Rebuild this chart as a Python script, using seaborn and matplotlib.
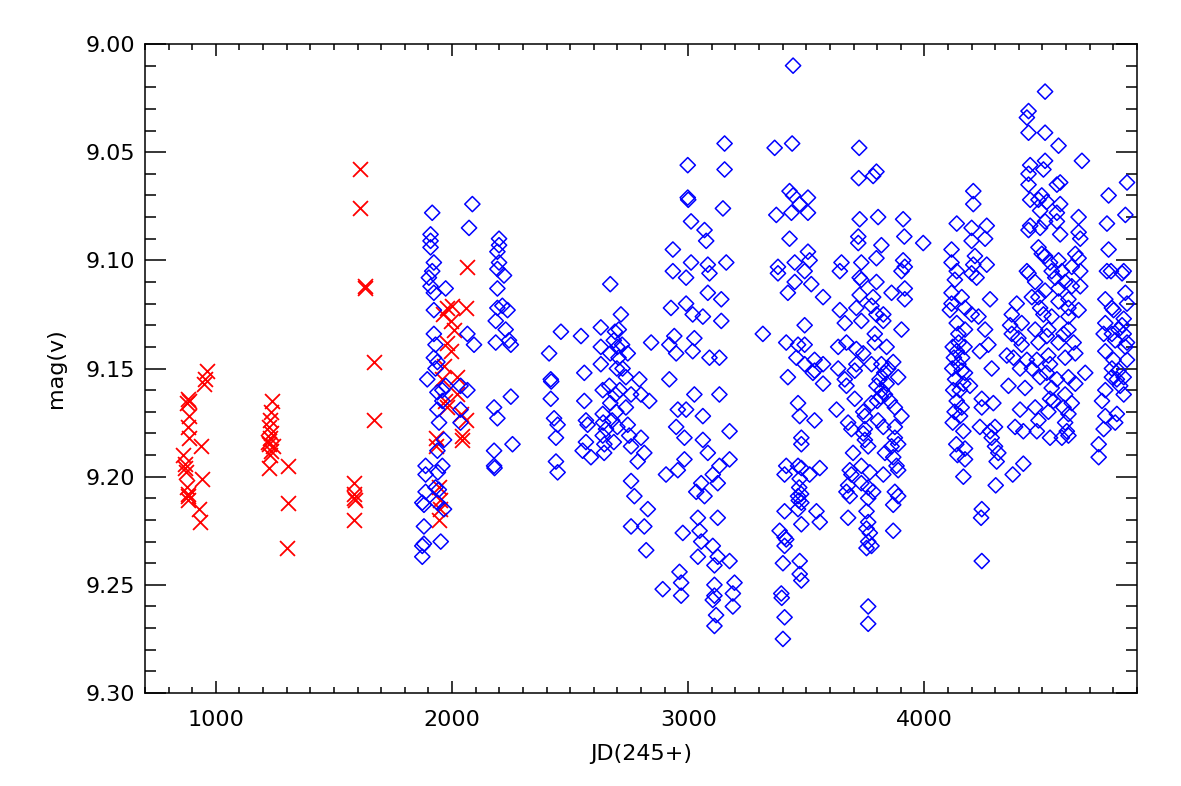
import numpy as np
import pandas as pd
import matplotlib
matplotlib.use("Agg")
import matplotlib.pyplot as plt
import seaborn as sns
from matplotlib.ticker import MultipleLocator, FormatStrFormatter

# ==========================================
# Data: (JD-2450000, V mag)
# ==========================================
# red crosses, one list per observing season
red_s1 = [(962, 9.151), (955, 9.155), (950, 9.157), (882, 9.164), (878, 9.166), (888, 9.165),
          (885, 9.172), (882, 9.177), (885, 9.182), (935, 9.186), (862, 9.190), (870, 9.194),
          (875, 9.198), (870, 9.196), (940, 9.201), (878, 9.205), (882, 9.208), (880, 9.209),
          (884, 9.211), (930, 9.215), (932, 9.221)]
red_s2 = [(1238, 9.165), (1232, 9.170), (1230, 9.174), (1226, 9.177), (1235, 9.180),
          (1228, 9.182), (1222, 9.184), (1226, 9.185), (1240, 9.186), (1232, 9.188),
          (1230, 9.190), (1226, 9.196), (1307, 9.195), (1307, 9.212), (1300, 9.233)]
red_s3 = [(1612, 9.058), (1612, 9.076), (1630, 9.113), (1632, 9.112), (1669, 9.147),
          (1669, 9.174), (1584, 9.203), (1586, 9.208), (1584, 9.210), (1588, 9.211), (1584, 9.220)]
red_s4 = [(2065, 9.103), (1980, 9.122), (2001, 9.121), (2058, 9.122), (1960, 9.125),
          (1994, 9.128), (2008, 9.132), (1980, 9.138), (1994, 9.142), (1966, 9.149),
          (2023, 9.154), (1959, 9.155), (2023, 9.162), (1970, 9.165), (1980, 9.168),
          (2036, 9.171), (2058, 9.174), (2044, 9.181), (2044, 9.183), (1930, 9.182),
          (1930, 9.186), (1944, 9.205), (1951, 9.211), (1951, 9.215), (1944, 9.220)]

# blue diamonds, one list per observing season
blue_s1 = [(1916, 9.078), (1909, 9.088), (1909, 9.091), (1909, 9.094), (1923, 9.101),
           (1916, 9.105), (1902, 9.108), (1909, 9.112), (1923, 9.115), (1973, 9.113),
           (1923, 9.123), (1923, 9.134), (1930, 9.139), (1923, 9.145), (1938, 9.147),
           (1930, 9.150), (1895, 9.155), (1973, 9.158), (1959, 9.160), (1938, 9.161),
           (1959, 9.165), (1938, 9.169), (1945, 9.175), (1966, 9.183), (1938, 9.188),
           (1888, 9.195), (1959, 9.195), (1940, 9.198), (1888, 9.199), (1930, 9.205),
           (1944, 9.206), (1888, 9.207), (1874, 9.212), (1938, 9.212), (1881, 9.213),
           (1966, 9.215), (1881, 9.223), (1952, 9.230), (1881, 9.231), (1874, 9.232),
           (1874, 9.237)]
blue_s2 = [(2086, 9.074), (2072, 9.085), (2065, 9.134), (2093, 9.139), (2036, 9.158),
           (2065, 9.160), (2036, 9.169), (2036, 9.175), (2199, 9.090), (2199, 9.093),
           (2192, 9.096), (2199, 9.101), (2192, 9.104), (2220, 9.107), (2192, 9.113),
           (2213, 9.121), (2192, 9.122), (2235, 9.123), (2185, 9.128), (2227, 9.132),
           (2241, 9.137), (2185, 9.138), (2249, 9.139), (2249, 9.163), (2178, 9.168),
           (2192, 9.173), (2256, 9.185), (2178, 9.188), (2178, 9.195), (2180, 9.196)]
blue_s3 = [(2670, 9.111), (2461, 9.133), (2546, 9.135), (2411, 9.143), (2418, 9.155),
           (2420, 9.156), (2418, 9.164), (2432, 9.173), (2447, 9.176), (2440, 9.182),
           (2440, 9.193), (2447, 9.198), (2560, 9.152), (2560, 9.165), (2567, 9.174),
           (2574, 9.176), (2567, 9.184), (2553, 9.188), (2588, 9.191), (2630, 9.131),
           (2715, 9.125), (2706, 9.132), (2685, 9.137), (2630, 9.140), (2670, 9.143),
           (2744, 9.143), (2630, 9.148), (2722, 9.150), (2736, 9.154), (2666, 9.158),
           (2793, 9.155), (2638, 9.160), (2692, 9.162), (2758, 9.162), (2800, 9.162),
           (2835, 9.165), (2670, 9.166), (2736, 9.168), (2638, 9.171), (2678, 9.174),
           (2652, 9.178), (2700, 9.177), (2744, 9.176), (2638, 9.181), (2685, 9.184),
           (2750, 9.181), (2800, 9.182), (2644, 9.189), (2758, 9.186), (2814, 9.189),
           (2786, 9.193), (2758, 9.202), (2772, 9.209), (2829, 9.215), (2758, 9.223),
           (2814, 9.223), (2822, 9.234), (2843, 9.138), (2700, 9.140), (2705, 9.145),
           (2698, 9.150), (2710, 9.160), (2695, 9.170), (2640, 9.175), (2645, 9.185),
           (2690, 9.133), (2720, 9.139)]
blue_s4 = [(3154, 9.046), (2998, 9.056), (3154, 9.058), (2998, 9.071), (3000, 9.072),
           (3147, 9.076), (3012, 9.082), (3069, 9.086), (3076, 9.091), (2935, 9.095),
           (3012, 9.101), (3161, 9.101), (3083, 9.102), (2935, 9.105), (3090, 9.106),
           (2991, 9.108), (3083, 9.115), (3140, 9.118), (2991, 9.120), (2927, 9.122),
           (3019, 9.125), (3062, 9.126), (3140, 9.128), (2941, 9.135), (3026, 9.136),
           (2920, 9.139), (3019, 9.142), (2949, 9.143), (3090, 9.145), (3132, 9.145),
           (2920, 9.155), (3026, 9.162), (3132, 9.162), (2956, 9.169), (2991, 9.169),
           (3062, 9.172), (2949, 9.177), (3175, 9.179), (2984, 9.182), (3062, 9.183),
           (3083, 9.189), (2984, 9.192), (3175, 9.192), (3132, 9.195), (2956, 9.197),
           (2906, 9.199), (3104, 9.199), (3055, 9.203), (3125, 9.203), (3034, 9.207),
           (3069, 9.209), (3125, 9.219), (3041, 9.219), (3048, 9.225), (2977, 9.226),
           (3055, 9.230), (3104, 9.232), (3041, 9.237), (3125, 9.237), (3175, 9.239),
           (3111, 9.241), (2963, 9.244), (3196, 9.249), (2970, 9.249), (3111, 9.250),
           (2892, 9.252), (3189, 9.254), (2970, 9.255), (3111, 9.255), (3104, 9.257),
           (3189, 9.260), (3118, 9.264), (3111, 9.269)]
blue_s5 = [(3444, 9.010), (3440, 9.046), (3366, 9.048), (3429, 9.068), (3444, 9.070),
           (3507, 9.071), (3472, 9.074), (3437, 9.078), (3507, 9.078), (3373, 9.079),
           (3429, 9.090), (3507, 9.096), (3514, 9.100), (3451, 9.101), (3380, 9.103),
           (3493, 9.105), (3380, 9.106), (3451, 9.110), (3521, 9.111), (3422, 9.115),
           (3571, 9.117), (3493, 9.130), (3316, 9.134), (3415, 9.138), (3465, 9.139),
           (3493, 9.139), (3458, 9.145), (3535, 9.146), (3493, 9.148), (3571, 9.148),
           (3535, 9.151), (3528, 9.152), (3422, 9.154), (3571, 9.157), (3465, 9.166),
           (3472, 9.172), (3535, 9.174), (3479, 9.182), (3479, 9.185), (3415, 9.195),
           (3465, 9.195), (3479, 9.196), (3557, 9.196), (3408, 9.199), (3514, 9.199),
           (3472, 9.201), (3470, 9.205), (3478, 9.208), (3465, 9.209), (3468, 9.211),
           (3479, 9.212), (3465, 9.215), (3408, 9.216), (3543, 9.216), (3557, 9.221),
           (3479, 9.222), (3387, 9.225), (3408, 9.228), (3415, 9.229), (3408, 9.232),
           (3472, 9.239), (3401, 9.240), (3472, 9.245), (3479, 9.248), (3394, 9.254),
           (3396, 9.256), (3408, 9.265), (3401, 9.275)]
blue_s6 = [(3724, 9.048), (3797, 9.059), (3783, 9.061), (3722, 9.062), (3804, 9.080),
           (3726, 9.081), (3910, 9.081), (3720, 9.089), (3915, 9.089), (3720, 9.092),
           (3818, 9.093), (3797, 9.099), (3910, 9.100), (3649, 9.101), (3733, 9.101),
           (3917, 9.103), (3642, 9.105), (3903, 9.105), (3726, 9.108), (3733, 9.109),
           (3797, 9.110), (3917, 9.113), (3861, 9.115), (3726, 9.116), (3783, 9.117),
           (3917, 9.118), (3776, 9.121), (3712, 9.122), (3642, 9.123), (3797, 9.125),
           (3826, 9.125), (3733, 9.128), (3826, 9.128), (3663, 9.129), (3903, 9.132),
           (3790, 9.134), (3670, 9.138), (3790, 9.138), (3635, 9.140), (3840, 9.140),
           (3712, 9.141), (3741, 9.143), (3868, 9.147), (3712, 9.148), (3776, 9.148),
           (3818, 9.148), (3635, 9.150), (3847, 9.150), (3705, 9.151), (3830, 9.152),
           (3889, 9.154), (3663, 9.155), (3810, 9.155), (3840, 9.157), (3670, 9.158),
           (3797, 9.158), (3820, 9.160), (3833, 9.162), (3815, 9.163), (3705, 9.164),
           (3854, 9.165), (3800, 9.165), (3776, 9.166), (3875, 9.168), (3628, 9.169),
           (3741, 9.170), (3748, 9.172), (3903, 9.172), (3804, 9.174), (3677, 9.175),
           (3826, 9.177), (3875, 9.177), (3691, 9.178), (3748, 9.178), (3741, 9.180),
           (3875, 9.182), (3748, 9.183), (3889, 9.185), (3762, 9.186), (3861, 9.186),
           (3698, 9.189), (3833, 9.189), (3868, 9.191), (3733, 9.195), (3882, 9.195),
           (3684, 9.197), (3889, 9.197), (3769, 9.198), (3691, 9.199), (3826, 9.199),
           (3733, 9.203), (3677, 9.204), (3762, 9.205), (3783, 9.207), (3670, 9.207),
           (3875, 9.207), (3684, 9.209), (3889, 9.209), (3762, 9.210), (3868, 9.213),
           (3755, 9.216), (3677, 9.219), (3762, 9.221), (3755, 9.224), (3868, 9.225),
           (3769, 9.226), (3762, 9.230), (3776, 9.232), (3755, 9.233), (3762, 9.260),
           (3762, 9.268)]
blue_s7 = [(3995, 9.092), (4207, 9.068), (4207, 9.074), (4137, 9.083), (4264, 9.084),
           (4200, 9.085), (4257, 9.090), (4200, 9.091), (4115, 9.095), (4214, 9.098),
           (4115, 9.101), (4207, 9.102), (4264, 9.102), (4137, 9.105), (4200, 9.106),
           (4221, 9.108), (4129, 9.109), (4115, 9.115), (4158, 9.117), (4278, 9.118),
           (4115, 9.120), (4172, 9.122), (4108, 9.123), (4200, 9.125), (4229, 9.126),
           (4137, 9.129), (4172, 9.132), (4257, 9.132), (4144, 9.134), (4145, 9.138),
           (4271, 9.139), (4120, 9.140), (4170, 9.140), (4137, 9.142), (4235, 9.142),
           (4125, 9.145), (4160, 9.145), (4144, 9.148), (4118, 9.150), (4285, 9.150),
           (4158, 9.151), (4172, 9.152), (4130, 9.155), (4165, 9.157), (4193, 9.158),
           (4122, 9.160), (4150, 9.160), (4243, 9.164), (4137, 9.165), (4292, 9.166),
           (4158, 9.168), (4243, 9.168), (4128, 9.170), (4151, 9.172), (4120, 9.175),
           (4235, 9.177), (4299, 9.177), (4165, 9.179), (4278, 9.179), (4285, 9.182),
           (4135, 9.185), (4299, 9.186), (4172, 9.187), (4313, 9.189), (4140, 9.190),
           (4172, 9.192), (4306, 9.193), (4419, 9.194), (4374, 9.199), (4165, 9.200),
           (4302, 9.204), (4243, 9.215), (4240, 9.219), (4243, 9.239)]
blue_s8 = [(4511, 9.022), (4441, 9.031), (4434, 9.034), (4441, 9.041), (4511, 9.041),
           (4568, 9.047), (4511, 9.054), (4667, 9.054), (4448, 9.056), (4504, 9.058),
           (4441, 9.060), (4575, 9.064), (4441, 9.065), (4561, 9.065), (4497, 9.070),
           (4483, 9.072), (4448, 9.072), (4518, 9.073), (4575, 9.074), (4490, 9.077),
           (4561, 9.078), (4653, 9.080), (4511, 9.082), (4561, 9.082), (4448, 9.084),
           (4490, 9.085), (4441, 9.086), (4653, 9.087), (4575, 9.088), (4660, 9.090),
           (4483, 9.094), (4497, 9.097), (4639, 9.097), (4511, 9.098), (4653, 9.099),
           (4568, 9.100), (4532, 9.101), (4624, 9.103), (4434, 9.105), (4539, 9.105),
           (4582, 9.105), (4660, 9.105), (4441, 9.106), (4554, 9.108), (4469, 9.110),
           (4596, 9.110), (4624, 9.112), (4660, 9.112), (4568, 9.113), (4511, 9.114),
           (4455, 9.117), (4483, 9.117), (4610, 9.118), (4568, 9.119), (4391, 9.120),
           (4490, 9.122), (4610, 9.122), (4653, 9.123), (4370, 9.125), (4504, 9.125),
           (4539, 9.126), (4610, 9.126), (4412, 9.129), (4363, 9.130), (4469, 9.132),
           (4525, 9.132), (4610, 9.132), (4370, 9.134), (4589, 9.134), (4518, 9.135),
           (4398, 9.136), (4483, 9.138), (4632, 9.138), (4568, 9.138), (4412, 9.139),
           (4639, 9.143), (4349, 9.144), (4525, 9.144), (4596, 9.145), (4377, 9.145),
           (4434, 9.146), (4476, 9.146), (4532, 9.148), (4405, 9.150), (4455, 9.150),
           (4518, 9.152), (4681, 9.152), (4490, 9.154), (4610, 9.154), (4561, 9.155),
           (4639, 9.157), (4356, 9.158), (4426, 9.159), (4539, 9.159), (4596, 9.162),
           (4532, 9.164), (4546, 9.165), (4624, 9.166), (4589, 9.168), (4469, 9.168),
           (4405, 9.169), (4525, 9.170), (4610, 9.171), (4483, 9.174), (4596, 9.175),
           (4384, 9.177), (4419, 9.179), (4476, 9.179), (4603, 9.179), (4610, 9.181),
           (4532, 9.182), (4582, 9.182)]
blue_s9 = [(4858, 9.064), (4780, 9.070), (4851, 9.079), (4773, 9.083), (4780, 9.095),
           (4773, 9.105), (4790, 9.105), (4844, 9.105), (4837, 9.106), (4851, 9.115),
           (4766, 9.118), (4858, 9.120), (4794, 9.122), (4801, 9.123), (4844, 9.127),
           (4766, 9.129), (4837, 9.130), (4822, 9.132), (4759, 9.134), (4794, 9.134),
           (4844, 9.134), (4808, 9.137), (4858, 9.138), (4851, 9.140), (4766, 9.142),
           (4801, 9.146), (4858, 9.146), (4794, 9.150), (4822, 9.151), (4794, 9.154),
           (4844, 9.154), (4815, 9.155), (4829, 9.158), (4766, 9.160), (4844, 9.162),
           (4752, 9.165), (4815, 9.171), (4766, 9.172), (4808, 9.175), (4759, 9.178),
           (4738, 9.185), (4738, 9.191)]

red = pd.DataFrame(red_s1 + red_s2 + red_s3 + red_s4, columns=["jd", "mag"])
blue = pd.DataFrame(blue_s1 + blue_s2 + blue_s3 + blue_s4 + blue_s5 + blue_s6
                    + blue_s7 + blue_s8 + blue_s9, columns=["jd", "mag"])

# ==========================================
# Plot
# ==========================================
sns.set_style("ticks")
plt.rcParams["font.family"] = ["DejaVu Sans"]
plt.rcParams["text.color"] = "black"
plt.rcParams["axes.labelcolor"] = "black"

fig = plt.figure(figsize=(11.81, 7.86), dpi=100)
ax = fig.add_axes([0.1228, 0.1183, 0.8399, 0.8257])

sns.scatterplot(data=red, x="jd", y="mag", marker="x", color="red",
                s=115, linewidth=1.3, ax=ax)
sns.scatterplot(data=blue, x="jd", y="mag", marker="D", s=60,
                facecolor="none", edgecolor="blue", linewidth=1.1, ax=ax)

ax.set_xlim(700, 4900)
ax.set_ylim(9.30, 9.00)
ax.xaxis.set_major_locator(MultipleLocator(1000))
ax.xaxis.set_minor_locator(MultipleLocator(100))
ax.yaxis.set_major_locator(MultipleLocator(0.05))
ax.yaxis.set_minor_locator(MultipleLocator(0.01))
ax.yaxis.set_major_formatter(FormatStrFormatter("%.2f"))

ax.tick_params(which="both", direction="in", top=True, right=True,
               colors="black", width=1.1)
ax.tick_params(axis="x", which="major", length=8.6, pad=12, labelsize=16)
ax.tick_params(axis="x", which="minor", length=4.3)
ax.tick_params(axis="y", which="major", length=15, pad=7, labelsize=16)
ax.tick_params(axis="y", which="minor", length=8)
for sp in ax.spines.values():
    sp.set_linewidth(1.1)
    sp.set_color("black")

ax.set_xlabel("JD(245+)", fontsize=16, labelpad=10, color="black")
ax.set_ylabel("mag(v)", fontsize=16, labelpad=14, color="black")

fig.savefig("out.png", dpi=100)
